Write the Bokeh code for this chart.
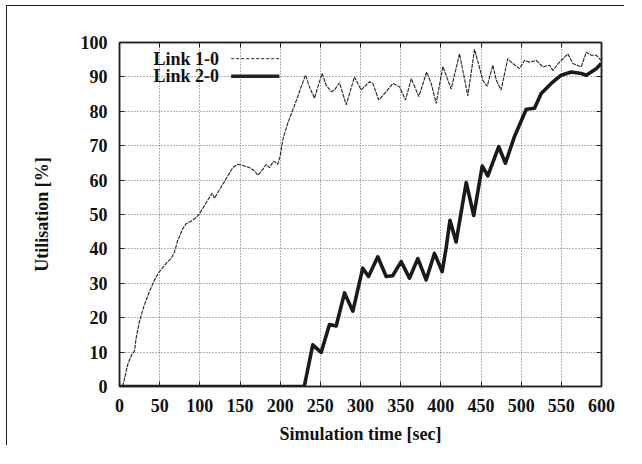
from bokeh.plotting import figure
from bokeh.models import LinearAxis, Label, Arrow, FixedTicker, Range1d
from bokeh.embed import file_html
from bokeh.resources import INLINE

# ---- data ----
link10_t = [4, 10.4, 14.5, 18.7, 20.8, 24.9, 31, 37.3, 43.6, 49.8, 58, 64.4, 68.5, 72.6, 78.8, 83,
            91.2, 95.5, 99.6, 105.8, 112, 115.4, 118.3, 122.4, 129.8, 134.8, 141, 147.3, 155.6,
            161.8, 168, 172.2, 178.4, 182.6, 186.7, 191.7, 197, 200, 203.3, 209.5, 215.7, 222,
            226.1, 231.5, 236.5, 242.7, 246.9, 252.2, 257.2, 263.5, 267.6, 273.9, 282.2, 292.5,
            300.8, 311.2, 315.3, 322.8, 332, 340.2, 348.6, 356, 363.3, 372.6, 382.4, 388, 394.2,
            402.5, 412.9, 423.3, 433.6, 442, 452.3, 457.7, 464.7, 469, 475, 483.3, 489.6, 497.9,
            504.2, 510.4, 518.7, 527, 535.3, 539.4, 547.8, 558.1, 564.4, 574.8, 581, 587.2,
            593.4, 599.6]
link10_u = [0, 6.5, 8.9, 10.4, 14.2, 19, 23.8, 27.6, 31, 33.4, 35.8, 37.2, 39.2, 42.5, 45.9, 47.3,
            48.3, 49.2, 50.2, 52.6, 55, 56.2, 54.7, 56.4, 59.3, 61.2, 63.6, 64.6, 64.1,
            63.6, 62.7, 61.4, 63.1, 64.6, 63.6, 65.5, 64.6, 67, 71.8, 76.6, 80.4, 84.3,
            87.1, 90.5, 87.1, 83.8, 87.1, 91, 87.6, 85.7, 86.2, 88.3, 81.9, 90,
            86.2, 88.6, 88.1, 83.3, 85.7, 88.1, 87.1, 83.3, 89.5, 84.3, 91.4, 88.1, 82.3,
            93, 86.5, 96.7, 84.5, 98, 89, 87.3, 93.4, 89.1, 86.2, 95.3, 93.9, 92.4,
            94.8, 94.3, 94.8, 92.9, 93.4, 91.9, 94.3, 96.7, 93.9, 92.9, 97.2, 96.3,
            96.3, 94.8]

link20_t = [0, 230, 240.6, 251, 261.4, 269.7, 280.1, 290.5, 302.8, 310, 321.5, 332, 340, 350.6,
            361, 371.4, 381.7, 392.1, 401.6, 406.5, 411.4, 419, 431.6, 441, 451.5, 458.5, 472.1,
            480.4, 491.7, 506.3, 516.6, 524.9, 537.4, 549.8, 562.3, 574.8, 581, 587.2, 593.4, 599.6]
link20_u = [0, 0, 12.1, 9.9, 18, 17.6, 27.2, 21.9, 34.4, 32, 37.7, 32, 32.2, 36.3,
            31.5, 37.2, 31, 38.7, 33.4, 40.1, 48.3, 42, 59.3, 49.7, 64.1, 61.2, 69.7,
            64.9, 72.7, 80.6, 80.9, 85.2, 88.1, 90.5, 91.4, 91, 90.5, 91.4, 92.4, 93.9]

x_ticks = [0, 50, 100, 150, 200, 250, 300, 350, 400, 450, 500, 550, 600]
y_ticks = [0, 10, 20, 30, 40, 50, 60, 70, 80, 90, 100]
series_names = ["Link 1-0", "Link 2-0"]

FONT = "Liberation Serif"
FS = "18px"

p = figure(width=618, height=440, output_backend="svg", toolbar_location=None,
           x_range=Range1d(0, 600), y_range=Range1d(0, 100),
           min_border_left=112, min_border_right=24, min_border_top=36, min_border_bottom=57,
           x_axis_label="Simulation time [sec]", y_axis_label="Utilisation [%]")
# outer page frame: only its left and top edges show in the reference
p.styles = {"border-left": "1.5px solid #222", "border-top": "1.5px solid #222",
            "margin-left": "6px", "margin-top": "5px"}

p.outline_line_color = "#222"
p.outline_line_width = 1.5
p.background_fill_color = "white"
p.border_fill_color = "white"

for ax in (p.xaxis[0], p.yaxis[0]):
    ax.major_tick_in = 5
    ax.major_tick_out = 0
    ax.minor_tick_line_color = None
    ax.major_tick_line_color = "#222"
    ax.axis_line_color = "#222"
    ax.axis_line_width = 1.5
    ax.major_label_text_font = FONT
    ax.major_label_text_font_size = FS
    ax.major_label_text_font_style = "bold"
    ax.major_label_text_color = "#111"
    ax.axis_label_text_font = FONT
    ax.axis_label_text_font_size = FS
    ax.axis_label_text_font_style = "bold"
    ax.axis_label_text_color = "#111"
    ax.major_label_standoff = 12

p.xaxis[0].ticker = FixedTicker(ticks=x_ticks)
p.yaxis[0].ticker = FixedTicker(ticks=y_ticks)
p.xaxis[0].axis_label_standoff = 9
p.yaxis[0].axis_label_standoff = 26

for loc, ticks in (("right", y_ticks), ("above", x_ticks)):
    ax = LinearAxis(ticker=FixedTicker(ticks=ticks), major_tick_in=5, major_tick_out=0,
                    minor_tick_line_color=None, major_label_text_font_size="0px",
                    major_label_text_color=None, major_label_standoff=0,
                    axis_line_color="#222", axis_line_width=1.5,
                    major_tick_line_color="#222")
    p.add_layout(ax, loc)

p.xgrid.ticker = FixedTicker(ticks=x_ticks)
p.ygrid.ticker = FixedTicker(ticks=y_ticks)
for g in (p.xgrid[0], p.ygrid[0]):
    g.grid_line_color = "#666"
    g.grid_line_dash = "1 2"
    g.grid_line_width = 1

p.line(link10_t, link10_u, line_color="#222", line_width=1.1, line_dash="4 1")
p.line(link20_t, link20_u, line_color="#1a1a1a", line_width=3.6, line_join="round")

# legend (text left of sample line, gnuplot style)
leg_text_x = 124
leg_line = (139, 199)
leg_rows = [(95.3, "3 2", 1.0), (90.2, None, 3.6)]
for name, (yy, dash, w) in zip(series_names, leg_rows):
    p.add_layout(Label(x=leg_text_x, y=yy, text=name, text_align="right", text_baseline="middle",
                       text_font=FONT, text_font_size=FS, text_font_style="bold", text_color="#111"))
    kw = dict(line_dash=dash) if dash else {}
    p.add_layout(Arrow(start=None, end=None, x_start=leg_line[0], y_start=yy, x_end=leg_line[1],
                       y_end=yy, line_color="#222", line_width=w, **kw))

open("out.html", "w").write(file_html(p, INLINE))
